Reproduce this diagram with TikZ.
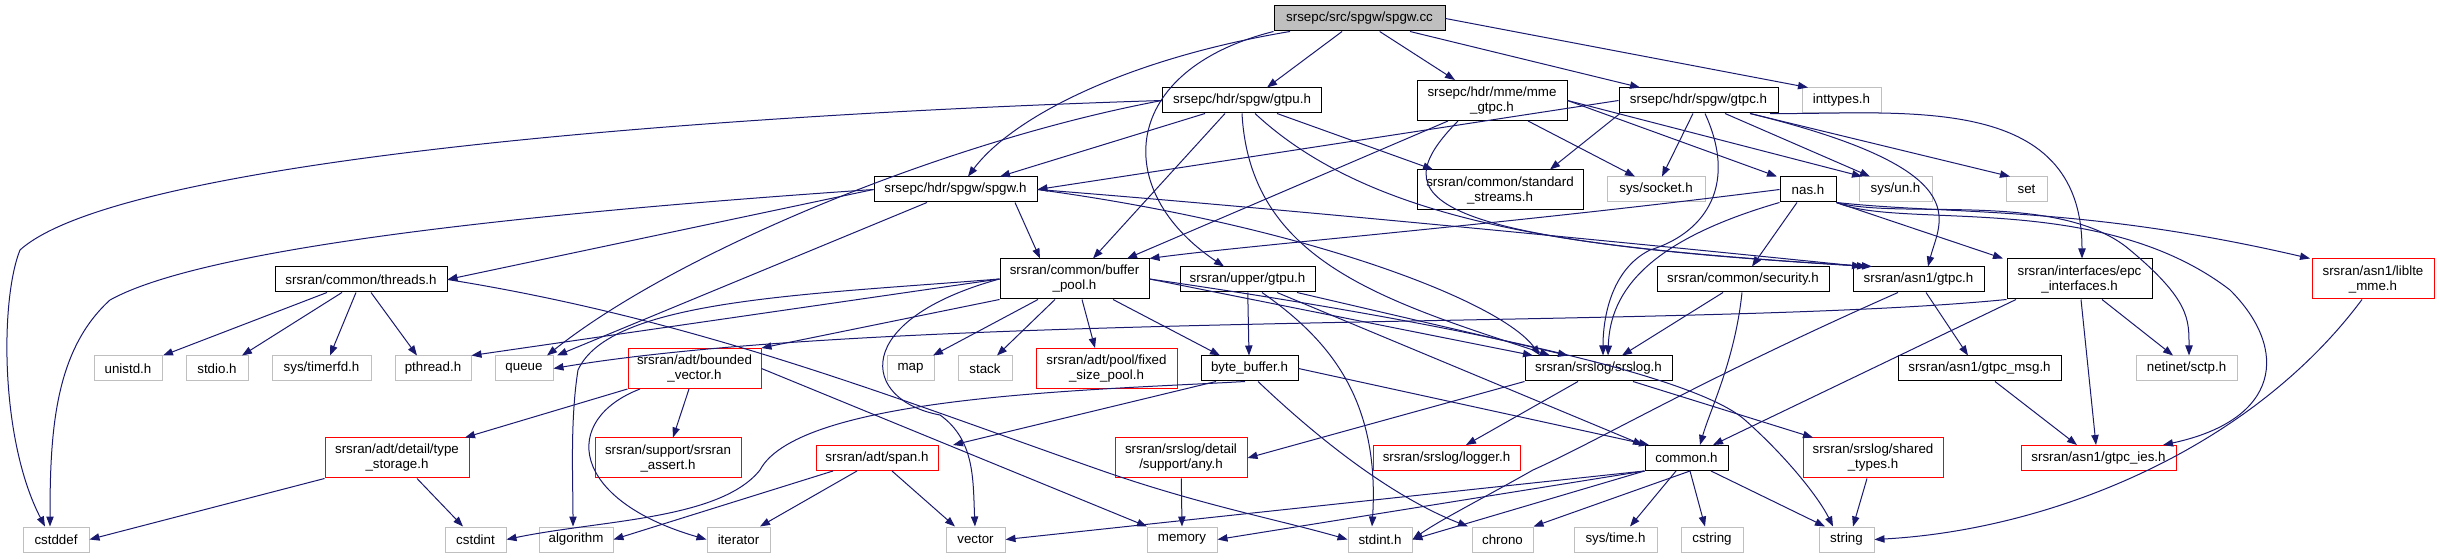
\documentclass[tikz,border=0pt]{standalone}
\usepackage{fontspec}
\setmainfont{Liberation Sans}
\usetikzlibrary{arrows.meta}
\definecolor{edgec}{RGB}{25,25,112}
\definecolor{greyb}{RGB}{191,191,191}
\begin{document}
\begin{tikzpicture}[x=0.75pt,y=-0.75pt,
  box/.style={draw=black, fill=white, line width=0.75pt, inner sep=0pt, align=center,
    minimum height=18.75pt, font=\fontsize{10}{11.25}\selectfont},
  two/.style={minimum height=30pt},
  ext/.style={box, draw=greyb},
  trunc/.style={box, draw=red},
  root/.style={box, fill=greyb},
  bw/.style={minimum width=#1*0.75pt},
  e/.style={draw=edgec, line width=0.75pt, -{Triangle[length=7.5pt,width=5.5pt]}, fill=none}]
\useasboundingbox (0,0) rectangle (2439,559);
% row 0
\node[root,bw=171] (cc) at (1359.5,18.5) {srsepc/src/spgw/spgw.cc};
% row 1
\node[box,bw=159] (gtpu) at (1242,100.5) {srsepc/hdr/spgw/gtpu.h};
\node[box,two,bw=150] (mmegtpc) at (1492,100.5) {srsepc/hdr/mme/mme\\\_gtpc.h};
\node[box,bw=159] (sgtpc) at (1698.5,100.5) {srsepc/hdr/spgw/gtpc.h};
\node[ext,bw=79] (inttypes) at (1841.5,100.5) {inttypes.h};
% row 2
\node[box,bw=163] (spgwh) at (955.5,189.5) {srsepc/hdr/spgw/spgw.h};
\node[box,two,bw=166] (stdstreams) at (1500,190) {srsran/common/standard\\\_streams.h};
\node[ext,bw=98] (socket) at (1656,189.5) {sys/socket.h};
\node[box,bw=56] (nas) at (1808,189.5) {nas.h};
\node[ext,bw=73] (un) at (1895.5,189.5) {sys/un.h};
\node[ext,bw=41] (set) at (2026.5,189.5) {set};
% row 3
\node[box,bw=172] (threads) at (361,279.5) {srsran/common/threads.h};
\node[box,two,bw=149] (bufpool) at (1074.5,279) {srsran/common/buffer\\\_pool.h};
\node[box,bw=135] (ugtpu) at (1247.5,279.5) {srsran/upper/gtpu.h};
\node[box,bw=172] (security) at (1743,279.5) {srsran/common/security.h};
\node[box,bw=131] (agtpc) at (1918.5,279.5) {srsran/asn1/gtpc.h};
\node[box,two,bw=145] (epc) at (2079.5,279) {srsran/interfaces/epc\\\_interfaces.h};
\node[trunc,two,bw=122] (liblte) at (2373,279) {srsran/asn1/liblte\\\_mme.h};
% row 4
\node[ext,bw=68] (unistd) at (128,368.5) {unistd.h};
\node[ext,bw=62] (stdio) at (217,368.5) {stdio.h};
\node[ext,bw=99] (timerfd) at (321.5,368.5) {sys/timerfd.h};
\node[ext,bw=76] (pthread) at (433,368.5) {pthread.h};
\node[ext,bw=58] (queue) at (524,368.5) {queue};
\node[trunc,two,bw=133] (bvec) at (694.5,368.5) {srsran/adt/bounded\\\_vector.h};
\node[ext,bw=47] (map) at (910.5,368.5) {map};
\node[ext,bw=54] (stack) at (985,368.5) {stack};
\node[trunc,two,bw=141] (fsp) at (1106.5,368.5) {srsran/adt/pool/fixed\\\_size\_pool.h};
\node[box,bw=97] (bb) at (1249.5,368.5) {byte\_buffer.h};
\node[box,bw=147] (srslog) at (1598.5,368.5) {srsran/srslog/srslog.h};
\node[box,bw=163] (gmsg) at (1979.5,368.5) {srsran/asn1/gtpc\_msg.h};
\node[ext,bw=101] (sctp) at (2186.5,368.5) {netinet/sctp.h};
% row 5
\node[trunc,two,bw=144] (tstor) at (397,458) {srsran/adt/detail/type\\\_storage.h};
\node[trunc,two,bw=146] (assert) at (668,458) {srsran/support/srsran\\\_assert.h};
\node[trunc,bw=122] (span) at (877,458) {srsran/adt/span.h};
\node[trunc,two,bw=132] (any) at (1181,458) {srsran/srslog/detail\\/support/any.h};
\node[trunc,bw=147] (logger) at (1446.5,458) {srsran/srslog/logger.h};
\node[box,bw=83] (common) at (1686.5,458) {common.h};
\node[trunc,two,bw=140] (shared) at (1873,458) {srsran/srslog/shared\\\_types.h};
\node[trunc,bw=155] (ies) at (2098.5,458) {srsran/asn1/gtpc\_ies.h};
% row 6
\node[ext,bw=66] (cstddef) at (56,539.5) {cstddef};
\node[ext,bw=61] (cstdint) at (475.5,539.5) {cstdint};
\node[ext,bw=74] (algorithm) at (576,539.5) {algorithm};
\node[ext,bw=63] (iterator) at (738.5,539.5) {iterator};
\node[ext,bw=59] (vector) at (975.5,539.5) {vector};
\node[ext,bw=70] (memory) at (1182,539.5) {memory};
\node[ext,bw=64] (stdint) at (1380,539.5) {stdint.h};
\node[ext,bw=61] (chrono) at (1502.5,539.5) {chrono};
\node[ext,bw=83] (systime) at (1615.5,539.5) {sys/time.h};
\node[ext,bw=62] (cstring) at (1712,539.5) {cstring};
\node[ext,bw=55] (string) at (1846.5,539.5) {string};

% spgw.cc
\draw[e] (cc) -- (1267,0 |- gtpu.north);
\draw[e] (cc) -- (1455,0 |- mmegtpc.north);
\draw[e] (1410,0 |- cc.south) -- (1640,0 |- sgtpc.north);
\draw[e] (cc.east) -- (1808,0 |- inttypes.north);
\draw[e] (1290,0 |- cc.south) .. controls (1120,60) and (1010,120) .. (968,0 |- spgwh.north);
\draw[e] (cc.south west) .. controls (1120,70) and (1110,190) .. (1224,0 |- ugtpu.north);
% spgw gtpu.h
\draw[e] (1205,0 |- gtpu.south) -- (1000,0 |- spgwh.north);
\draw[e] (gtpu.west) .. controls (700,115) and (120,160) .. (20,250) .. controls (0,300) and (0,440) .. (45,0 |- cstddef.north);
\draw[e] (gtpu.west) .. controls (950,140) and (680,250) .. (547,0 |- queue.north);
\draw[e] (1225,0 |- gtpu.south) -- (1093,0 |- bufpool.north);
\draw[e] (1277,0 |- gtpu.south) -- (1433,0 |- stdstreams.north);
\draw[e] (1242,0 |- gtpu.south) .. controls (1250,260) and (1380,300) .. (1550,0 |- srslog.north);
\draw[e] (1255,0 |- gtpu.south) .. controls (1380,230) and (1600,250) .. (1867,0 |- agtpc.north);
% mme_gtpc.h
\draw[e] (1448,0 |- mmegtpc.south) -- (1127,0 |- bufpool.north);
\draw[e] (1458,0 |- mmegtpc.south) .. controls (1380,200) and (1420,240) .. (1872,0 |- agtpc.north);
\draw[e] (1528,0 |- mmegtpc.south) -- (1635,0 |- socket.north);
\draw[e] (mmegtpc.east) -- (1777,0 |- nas.north);
\draw[e] (mmegtpc.east) -- (1862,0 |- un.north);
% spgw gtpc.h
\draw[e] (sgtpc.west) -- (spgwh.east);
\draw[e] (1620,0 |- sgtpc.south) -- (1550,0 |- stdstreams.north);
\draw[e] (1693,0 |- sgtpc.south) -- (1662,0 |- socket.north);
\draw[e] (1725,0 |- sgtpc.south) -- (1870,0 |- un.north);
\draw[e] (1750,0 |- sgtpc.south) -- (2010,0 |- set.north);
\draw[e] (1750,0 |- sgtpc.south) .. controls (1980,170) and (1940,220) .. (1928,0 |- agtpc.north);
\draw[e] (1770,0 |- sgtpc.south) .. controls (1900,115) and (2082,90) .. (2082,0 |- epc.north);
\draw[e] (1705,0 |- sgtpc.south) .. controls (1740,190) and (1700,235) .. (1650,250) .. controls (1610,270) and (1603,320) .. (1603,0 |- srslog.north);
% spgw.h
\draw[e] (spgwh.west) -- (threads.east);
\draw[e] (spgwh.west) .. controls (500,215) and (200,250) .. (110,300) .. controls (55,350) and (50,430) .. (50,0 |- cstddef.north);
\draw[e] (927,0 |- spgwh.south) -- (557,0 |- queue.north);
\draw[e] (1015,0 |- spgwh.south) -- (1040,0 |- bufpool.north);
\draw[e] (spgwh.east) .. controls (1300,225) and (1500,300) .. (1540,0 |- srslog.north);
\draw[e] (spgwh.east) .. controls (1300,210) and (1700,250) .. (1862,0 |- agtpc.north);
% nas.h
\draw[e] (nas.west) .. controls (1500,225) and (1250,245) .. (bufpool.north east);
\draw[e] (1797,0 |- nas.south) -- (1752,0 |- security.north);
\draw[e] (nas.south west) .. controls (1650,240) and (1610,290) .. (1608,0 |- srslog.north);
\draw[e] (nas.south east) -- (2003,0 |- epc.north);
\draw[e] (nas.south east) .. controls (1950,215) and (2080,205) .. (2310,0 |- liblte.north);
\draw[e] (nas.south east) .. controls (1900,220) and (2060,190) .. (2130,250) .. controls (2190,300) and (2189,320) .. (2189,0 |- sctp.north);
\draw[e] (nas.south east) .. controls (1900,230) and (2100,190) .. (2230,290) .. controls (2290,350) and (2280,420) .. (2163,0 |- ies.north);
% threads.h
\draw[e] (327,0 |- threads.south) -- (163,0 |- unistd.north);
\draw[e] (342,0 |- threads.south) -- (242,0 |- stdio.north);
\draw[e] (356,0 |- threads.south) -- (330,0 |- timerfd.north);
\draw[e] (371,0 |- threads.south) -- (417,0 |- pthread.north);
\draw[e] (threads.east) .. controls (700,320) and (900,400) .. (1100,470) .. controls (1200,505) and (1280,520) .. (stdint.west);
% buffer_pool.h
\draw[e] (bufpool.west) -- (pthread.north east);
\draw[e] (bufpool.west) .. controls (800,295) and (610,300) .. (578,370) .. controls (570,420) and (573,480) .. (573,0 |- algorithm.north);
\draw[e] (bufpool.west) .. controls (850,320) and (860,400) .. (940,415) .. controls (975,440) and (973,480) .. (975,0 |- vector.north);
\draw[e] (bufpool.south west) -- (bvec.north east);
\draw[e] (1038,0 |- bufpool.south) -- (933,0 |- map.north);
\draw[e] (1055,0 |- bufpool.south) -- (997,0 |- stack.north);
\draw[e] (1082,0 |- bufpool.south) -- (1095,0 |- fsp.north);
\draw[e] (1113,0 |- bufpool.south) -- (1220,0 |- bb.north);
\draw[e] (bufpool.east) -- (1533,0 |- srslog.north);
\draw[e] (bufpool.east) .. controls (1500,330) and (1700,380) .. (1745,420) .. controls (1790,460) and (1820,500) .. (1833,0 |- string.north);
% upper gtpu
\draw[e] (ugtpu) -- (1249,0 |- bb.north);
\draw[e] (1262,0 |- ugtpu.south) .. controls (1330,340) and (1380,400) .. (1372,0 |- stdint.north);
\draw[e] (1277,0 |- ugtpu.south) -- (1643,0 |- common.north);
\draw[e] (1297,0 |- ugtpu.south) -- (1568,0 |- srslog.north);
% byte_buffer
\draw[e] (1216,0 |- bb.south) -- (953,0 |- span.north);
\draw[e] (1245,0 |- bb.south) .. controls (1100,390) and (800,395) .. (760,470) .. controls (720,520) and (600,520) .. (cstdint.east);
\draw[e] (1258,0 |- bb.south) .. controls (1330,450) and (1400,500) .. (1468,0 |- chrono.north);
\draw[e] (bb.east) -- (1649,0 |- common.north);
% bounded_vector
\draw[e] (bvec.south west) -- (465,0 |- tstor.north);
\draw[e] (689,0 |- bvec.south) -- (673,0 |- assert.north);
\draw[e] (640,0 |- bvec.south) .. controls (560,420) and (570,500) .. (iterator.west);
\draw[e] (bvec.east) -- (1147,0 |- memory.north);
% type_storage
\draw[e] (tstor.south west) -- (cstddef.east);
\draw[e] (417,0 |- tstor.south) -- (463,0 |- cstdint.north);
% span
\draw[e] (833,0 |- span.south) -- (algorithm.east);
\draw[e] (857,0 |- span.south) -- (760,0 |- iterator.north);
\draw[e] (892,0 |- span.south) -- (955,0 |- vector.north);
% srslog
\draw[e] (srslog.south west) -- (any.east);
\draw[e] (1578,0 |- srslog.south) -- (1466,0 |- logger.north);
\draw[e] (1633,0 |- srslog.south) -- (1813,0 |- shared.north);
% any
\draw[e] (any) -- (1182,0 |- memory.north);
% security
\draw[e] (1723,0 |- security.south) -- (1622,0 |- srslog.north);
\draw[e] (1742,0 |- security.south) .. controls (1735,360) and (1710,410) .. (1700,0 |- common.north);
% asn1 gtpc
\draw[e] (1926,0 |- agtpc.south) -- (1968,0 |- gmsg.north);
\draw[e] (1898,0 |- agtpc.south) .. controls (1700,380) and (1600,440) .. (1533,470) .. controls (1480,500) and (1440,520) .. (stdint.east);
% gtpc_msg
\draw[e] (1995,0 |- gmsg.south) -- (2077,0 |- ies.north);
% epc
\draw[e] (2081,0 |- epc.south) -- (2096,0 |- ies.north);
\draw[e] (2102,0 |- epc.south) -- (2173,0 |- sctp.north);
\draw[e] (2016,0 |- epc.south) -- (1713,0 |- common.north);
\draw[e] (epc.south west) .. controls (1700,330) and (900,310) .. (queue.east);
% liblte
\draw[e] (2362,0 |- liblte.south) .. controls (2250,450) and (2050,530) .. (string.east);
% shared
\draw[e] (1867,0 |- shared.south) -- (1853,0 |- string.north);
% common
\draw[e] (common.south west) -- (vector.east);
\draw[e] (common.south west) -- (memory.east);
\draw[e] (common.south west) -- (stdint.east);
\draw[e] (1690,0 |- common.south) -- (chrono.north east);
\draw[e] (1676,0 |- common.south) -- (1630,0 |- systime.north);
\draw[e] (1690,0 |- common.south) -- (1705,0 |- cstring.north);
\draw[e] (1711,0 |- common.south) -- (1825,0 |- string.north);
\end{tikzpicture}
\end{document}
